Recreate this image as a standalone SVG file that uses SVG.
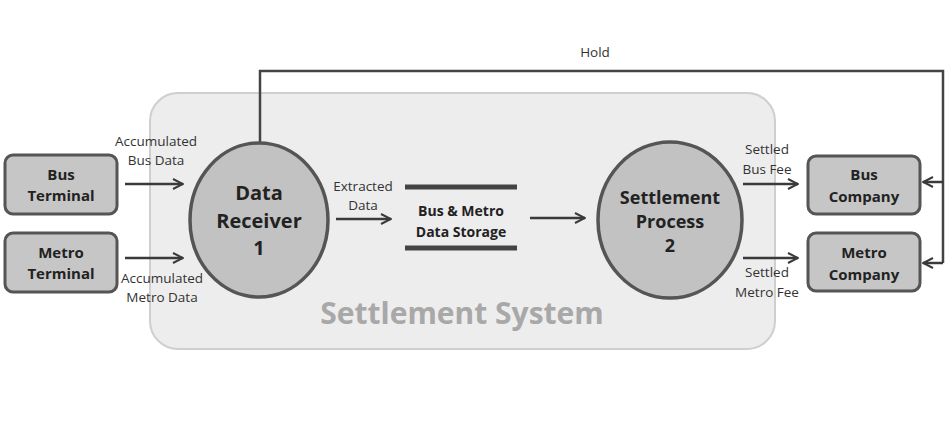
<svg xmlns="http://www.w3.org/2000/svg" width="946" height="441" viewBox="0 0 946 441">
  <defs>
    <marker id="arr" viewBox="0 0 12 12" refX="11" refY="6" markerWidth="12" markerHeight="12" markerUnits="userSpaceOnUse" orient="auto">
      <path d="M1,1 L11,6 L1,11" fill="none" stroke="#3a3a3a" stroke-width="2"/>
    </marker>
  </defs>
  <style>
    .ext { fill: #c6c6c6; stroke: #555; stroke-width: 3; }
    .proc { fill: #c2c2c2; stroke: #555; stroke-width: 3.5; }
    .ntxt { font-family: "Open Sans", "Noto Sans", sans-serif; font-weight: bold; fill: #222; text-anchor: middle; }
    .lbl { font-family: "Open Sans", "Noto Sans", sans-serif; font-size: 13.5px; fill: #333; text-anchor: middle; }
    .flow { fill: none; stroke: #3a3a3a; stroke-width: 2.5; marker-end: url(#arr); }
    .bar { stroke: #444; stroke-width: 5; }
  </style>
  <rect width="946" height="441" fill="#fff"/>

  <!-- system boundary -->
  <g id="settlement-system">
    <rect x="150" y="93" width="625" height="256" rx="28" fill="#ededed" stroke="#cfcfcf" stroke-width="2"/>
    <text x="462" y="324" font-family="Open Sans, Noto Sans, sans-serif" font-size="30" font-weight="bold" fill="#a8a8a8" text-anchor="middle">Settlement System</text>
  </g>

  <!-- connectors -->
  <g id="connectors">
    <path d="M260,143 V71 H943 V263" fill="none" stroke="#444" stroke-width="2.5"/>
    <path class="flow" d="M943,182 H923"/>
    <path class="flow" d="M943,263 H923"/>
    <path class="flow" d="M125,184 H183"/>
    <path class="flow" d="M125,258 H183"/>
    <path class="flow" d="M336,219 H391"/>
    <path class="flow" d="M530,218 H585"/>
    <path class="flow" d="M743,184 H798"/>
    <path class="flow" d="M743,258 H798"/>
    <text class="lbl" x="595" y="57" font-size="15">Hold</text>
    <text class="lbl" x="156" y="146">Accumulated</text>
    <text class="lbl" x="156" y="165">Bus Data</text>
    <text class="lbl" x="162" y="283">Accumulated</text>
    <text class="lbl" x="162" y="302">Metro Data</text>
    <text class="lbl" x="363" y="191">Extracted</text>
    <text class="lbl" x="363" y="210">Data</text>
    <text class="lbl" x="767" y="154">Settled</text>
    <text class="lbl" x="767" y="174">Bus Fee</text>
    <text class="lbl" x="767" y="277">Settled</text>
    <text class="lbl" x="767" y="297">Metro Fee</text>
  </g>

  <g id="bus-terminal">
    <rect class="ext" x="5" y="155" width="112" height="59" rx="8"/>
    <text class="ntxt" x="61" y="180" font-size="15">Bus</text>
    <text class="ntxt" x="61" y="201" font-size="15">Terminal</text>
  </g>
  <g id="metro-terminal">
    <rect class="ext" x="5" y="233" width="112" height="59" rx="8"/>
    <text class="ntxt" x="61" y="258" font-size="15">Metro</text>
    <text class="ntxt" x="61" y="279" font-size="15">Terminal</text>
  </g>

  <g id="data-receiver">
    <ellipse class="proc" cx="259" cy="220" rx="69" ry="77"/>
    <text class="ntxt" x="259" y="200" font-size="20">Data</text>
    <text class="ntxt" x="259" y="228" font-size="20">Receiver</text>
    <text class="ntxt" x="259" y="255" font-size="20">1</text>
  </g>

  <g id="data-storage">
    <line class="bar" x1="405" y1="187" x2="517" y2="187"/>
    <line class="bar" x1="405" y1="248" x2="517" y2="248"/>
    <text class="ntxt" x="461" y="216" font-size="14">Bus &amp; Metro</text>
    <text class="ntxt" x="461" y="237" font-size="14">Data Storage</text>
  </g>

  <g id="settlement-process">
    <ellipse class="proc" cx="670" cy="220" rx="72" ry="78"/>
    <text class="ntxt" x="670" y="204" font-size="18">Settlement</text>
    <text class="ntxt" x="670" y="228" font-size="18">Process</text>
    <text class="ntxt" x="670" y="252" font-size="18">2</text>
  </g>

  <g id="bus-company">
    <rect class="ext" x="808" y="156" width="112" height="58" rx="8"/>
    <text class="ntxt" x="864" y="180" font-size="15">Bus</text>
    <text class="ntxt" x="864" y="202" font-size="15">Company</text>
  </g>
  <g id="metro-company">
    <rect class="ext" x="808" y="233" width="112" height="58" rx="8"/>
    <text class="ntxt" x="864" y="258" font-size="15">Metro</text>
    <text class="ntxt" x="864" y="280" font-size="15">Company</text>
  </g>
</svg>
